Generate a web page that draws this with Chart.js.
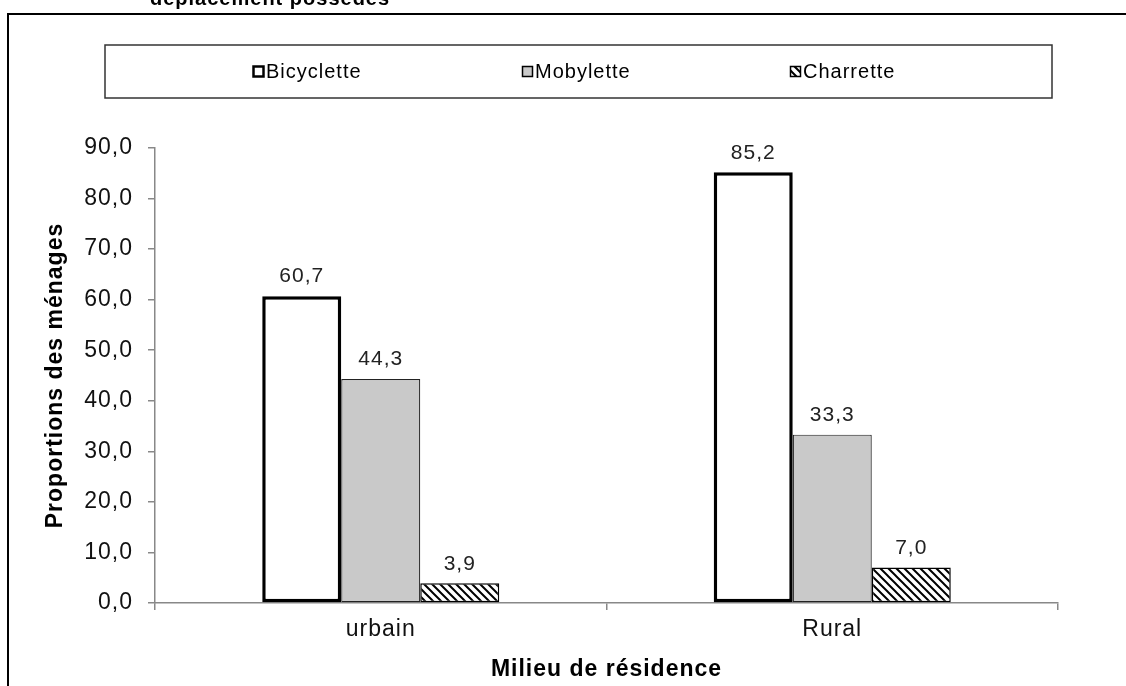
<!DOCTYPE html>
<html>
<head>
<meta charset="utf-8">
<script src="https://cdn.jsdelivr.net/npm/chart.js@4"></script>
<style>
  html, body { margin: 0; padding: 0; background: #fff; }
  #chart { display: block; }
</style>
</head>
<body>
<canvas id="chart" width="1126" height="686"></canvas>
<script>
// data
const categories = ["urbain", "Rural"];
const seriesNames = ["Bicyclette", "Mobylette", "Charrette"];
const bicyclette = [60.7, 85.2];
const mobylette = [44.3, 33.3];
const charrette = [3.9, 7.0];
const yTicks = [0, 10, 20, 30, 40, 50, 60, 70, 80, 90];

const FONT = "'Liberation Sans', Arial, sans-serif";
const SPACING = '1px';

const canvas = document.getElementById('chart');
const ctx = canvas.getContext('2d');

function fmt(v) { return v.toFixed(1).replace('.', ','); }

// diagonal hatch like the Excel pattern
function hatch() {
  const c = document.createElement('canvas');
  c.width = 8; c.height = 8;
  const g = c.getContext('2d');
  g.fillStyle = '#fff';
  g.fillRect(0, 0, 8, 8);
  g.strokeStyle = '#000';
  g.lineWidth = 2;
  g.beginPath();
  g.moveTo(-2, -2); g.lineTo(10, 10);
  g.moveTo(-2, 6); g.lineTo(2, 10);
  g.moveTo(6, -2); g.lineTo(10, 2);
  g.stroke();
  return ctx.createPattern(c, 'repeat');
}
const hatchFill = hatch();

const spacing = {
  id: 'spacing',
  beforeUpdate(chart) { chart.ctx.letterSpacing = SPACING; },
  beforeDraw(chart) { chart.ctx.letterSpacing = SPACING; }
};

// outer frame, cut-off title and the boxed legend
const frame = {
  id: 'frame',
  beforeDraw(chart) {
    const c = chart.ctx;
    c.save();
    c.strokeStyle = '#000';
    c.lineWidth = 2;
    c.beginPath();
    c.moveTo(8, 700); c.lineTo(8, 14); c.lineTo(1140, 14);
    c.stroke();

    c.fillStyle = '#000';
    c.font = 'bold 20px ' + FONT;
    c.textBaseline = 'alphabetic';
    c.textAlign = 'left';
    c.fillText('déplacement possédés', 150, 5);

    c.strokeStyle = '#333';
    c.lineWidth = 1.5;
    c.strokeRect(105, 45, 947, 53);

    const xs = [258, 527, 795];
    c.font = '20px ' + FONT;
    c.textBaseline = 'middle';
    chart.data.datasets.forEach((ds, i) => {
      const x = xs[i], y = 71;
      c.fillStyle = ds.backgroundColor;
      c.fillRect(x - 5, y - 5, 11, 11);
      c.strokeStyle = '#000';
      c.lineWidth = i === 0 ? 2.5 : 1.5;
      c.strokeRect(x - 4.5, y - 4.5, 10, 10);
      c.fillStyle = '#000';
      c.fillText(ds.label, x + 8, y + 1);
    });
    c.restore();
  }
};

const valueLabels = {
  id: 'valueLabels',
  afterDatasetsDraw(chart) {
    const c = chart.ctx;
    c.save();
    c.fillStyle = '#222';
    c.font = '21px ' + FONT;
    c.textAlign = 'center';
    c.textBaseline = 'bottom';
    chart.data.datasets.forEach((ds, i) => {
      chart.getDatasetMeta(i).data.forEach((bar, j) => {
        c.fillText(fmt(ds.data[j]), bar.x, bar.y - 9);
      });
    });
    c.restore();
  }
};

new Chart(canvas, {
  type: 'bar',
  data: {
    labels: categories,
    datasets: [
      { label: seriesNames[0], data: bicyclette, backgroundColor: '#ffffff',
        borderColor: '#000', borderWidth: 3.5 },
      { label: seriesNames[1], data: mobylette, backgroundColor: '#c9c9c9',
        borderColor: '#222', borderWidth: 1.2 },
      { label: seriesNames[2], data: charrette, backgroundColor: hatchFill,
        borderColor: '#000', borderWidth: 1.5 }
    ]
  },
  options: {
    responsive: false,
    animation: false,
    events: [],
    layout: { padding: { top: 148, right: 68, bottom: 0, left: 0 } },
    datasets: {
      bar: { categoryPercentage: 0.525, barPercentage: 1.0, borderSkipped: false }
    },
    plugins: {
      legend: { display: false },
      tooltip: { enabled: false }
    },
    scales: {
      x: {
        grid: { drawOnChartArea: false, tickLength: 7, color: '#888', lineWidth: 1.5 },
        border: { color: '#888', width: 1.5 },
        ticks: { color: '#111', font: { family: FONT, size: 23 }, padding: 6 },
        title: { display: true, text: 'Milieu de résidence', color: '#000',
                 font: { family: FONT, size: 23, weight: 'bold' }, padding: { top: 0, bottom: 3 } },
        afterFit(scale) { scale.height = 83; }
      },
      y: {
        min: 0,
        max: 90,
        afterBuildTicks(scale) { scale.ticks = yTicks.map(v => ({ value: v })); },
        grid: { drawOnChartArea: false, tickLength: 7, color: '#888', lineWidth: 1.5 },
        border: { color: '#888', width: 1.5 },
        ticks: { color: '#111', font: { family: FONT, size: 23 }, padding: 15,
                 callback: v => fmt(v) },
        title: { display: true, text: 'Proportions des ménages', color: '#000',
                 font: { family: FONT, size: 23, weight: 'bold' }, padding: { top: 42, bottom: 0 } },
        afterFit(scale) { scale.width = 155; }
      }
    }
  },
  plugins: [spacing, frame, valueLabels]
});
</script>
</body>
</html>
